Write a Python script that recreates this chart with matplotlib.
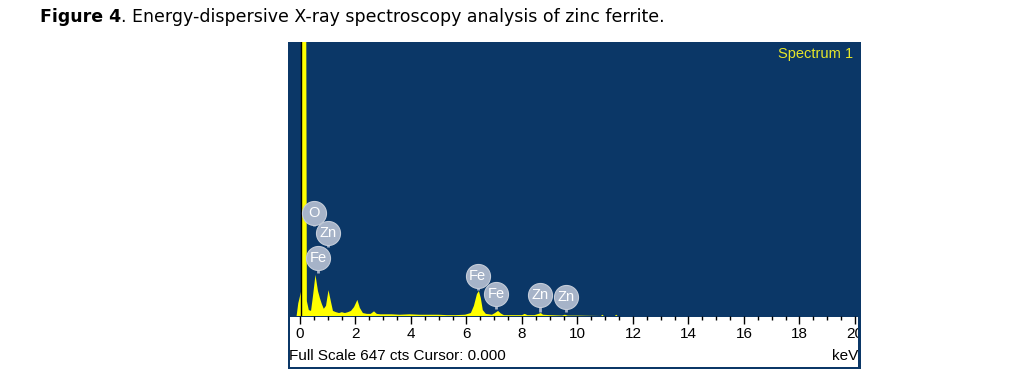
import matplotlib
matplotlib.use('Agg')
import matplotlib.pyplot as plt
from matplotlib.patches import Rectangle
from matplotlib.ticker import MultipleLocator

# EDS spectrum (keV, counts). Full scale = 647 cts,
# the main low-energy peak runs off the top.
energy = [-0.43, -0.12, -0.06, 0.05, 0.08, 0.17, 0.20, 0.25, 0.32, 0.40, 0.47,
          0.56, 0.65, 0.72, 0.79, 0.86, 0.94, 1.03, 1.12, 1.19, 1.30, 1.41,
          1.51, 1.62, 1.73, 1.84, 1.95, 2.07, 2.16, 2.27, 2.41, 2.55, 2.67,
          2.77, 2.90, 3.06, 3.30, 3.60, 3.95, 4.30, 4.65, 5.00, 5.30, 5.60,
          5.95, 6.16, 6.27, 6.38, 6.45, 6.52, 6.59, 6.70, 6.92, 7.03, 7.14,
          7.24, 7.35, 7.75, 8.00, 8.10, 8.20, 8.45, 8.60, 8.68, 8.76, 9.00,
          9.45, 9.55, 9.65, 10.0, 10.85, 10.9, 10.95, 11.35, 11.4, 11.45,
          12.0, 20.3]
counts = [0, 0, 30, 60, 1500, 1500, 1500, 35, 14, 12, 47,
          97, 59, 42, 28, 17, 24, 61, 33, 12, 9, 7,
          9, 7, 9, 12, 21, 38, 19, 7, 5, 5, 11,
          5, 4, 4, 4, 3, 4, 3, 3, 3, 2, 2,
          3, 7, 24, 52, 59, 42, 14, 5, 3, 7, 12,
          6, 2, 2, 2, 5, 2, 2, 5, 7, 3, 2,
          1, 3, 1, 1, 0, 3, 0, 0, 3, 0,
          0, 0]

# element markers: label, position (keV), bubble height and stem end (cts)
elements = ['O', 'Zn', 'Fe', 'Fe', 'Fe', 'Zn', 'Zn']
elem_kev = [0.50, 1.01, 0.65, 6.41, 7.06, 8.65, 9.59]
elem_top = [243, 196, 137, 94, 52, 50, 45]
elem_base = [212, 163, 102, 61, 17, 9, 9]

full_scale = 647
cursor = 0.05
xtick_vals = [0, 2, 4, 6, 8, 10, 12, 14, 16, 18, 20]

W, H = 1011, 380
navy = '#0b3767'
yellow = '#ffff00'
bubble = '#a6b3c8'


def fx(px):
    return px / W


def fy(py):
    return 1 - py / H


fig = plt.figure(figsize=(W / 100, H / 100), dpi=100)
fig.patch.set_facecolor('white')

# panel frame (blue border around white scale band)
fig.patches.append(Rectangle((fx(288), fy(369)), fx(861) - fx(288), fy(42) - fy(369),
                             transform=fig.transFigure, facecolor=navy,
                             edgecolor='none', zorder=-2))
fig.patches.append(Rectangle((fx(290), fy(367)), fx(858) - fx(290), fy(317) - fy(367),
                             transform=fig.transFigure, facecolor='white',
                             edgecolor='none', zorder=-1))

ax = fig.add_axes([fx(288), fy(316), fx(861) - fx(288), fy(42) - fy(316)])
ax.set_zorder(1)
ax.set_facecolor(navy)
for s in ax.spines.values():
    s.set_visible(False)

ax.fill_between(energy, counts, 0, color=yellow, linewidth=0, zorder=2)
ax.axvline(cursor, color='black', lw=1.0, zorder=3)

for lab, x, yt, yb in zip(elements, elem_kev, elem_top, elem_base):
    ax.plot([x, x], [yt, yb], color=bubble, lw=2, zorder=4, solid_capstyle='butt')
    ax.scatter([x], [yt], s=300, color=bubble, edgecolors='#c4ccd9',
               linewidths=0.8, zorder=5)
    ax.text(x, yt, lab, color='white', fontsize=10.5, ha='center', va='center',
            family='Liberation Sans', zorder=6)

ax.set_xlim(-0.43, 20.22)
ax.set_ylim(0, full_scale)
ax.set_yticks([])
ax.set_xticks(xtick_vals)
ax.xaxis.set_minor_locator(MultipleLocator(0.5))
ax.tick_params(axis='x', which='major', direction='out', length=6, width=1,
               color='black', labelsize=11, pad=2)
ax.tick_params(axis='x', which='minor', direction='out', length=3, width=1,
               color='black')
for t in ax.get_xticklabels():
    t.set_family('Liberation Sans')

ax.text(0.986, 0.955, 'Spectrum 1', transform=ax.transAxes, color='#e6e62a',
        fontsize=10.5, ha='right', va='center', family='Liberation Sans')

fig.text(fx(289), fy(356), 'Full Scale 647 cts Cursor: 0.000', fontsize=11,
         family='Liberation Sans', ha='left', va='center', zorder=3)
fig.text(fx(858), fy(356), 'keV', fontsize=11, family='Liberation Sans',
         ha='right', va='center', zorder=3)

# cover the clipped part of the "20" label and redraw the right border
fig.patches.append(Rectangle((fx(861), fy(369)), 0.03, fy(317) - fy(369),
                             transform=fig.transFigure, facecolor='white',
                             edgecolor='none', zorder=10))
fig.patches.append(Rectangle((fx(858), fy(369)), fx(861) - fx(858), fy(316) - fy(369),
                             transform=fig.transFigure, facecolor=navy,
                             edgecolor='none', zorder=11))

# caption: bold "Figure 4" followed by regular text
renderer = fig.canvas.get_renderer()
t1 = fig.text(fx(40), fy(17), 'Figure 4', fontsize=12.5, fontweight='bold',
              family='DejaVu Sans', va='center', ha='left')
bb = t1.get_window_extent(renderer)
fig.text(bb.x1 / W, fy(17),
         '. Energy-dispersive X-ray spectroscopy analysis of zinc ferrite.',
         fontsize=12.5, family='DejaVu Sans', va='center', ha='left')

fig.savefig('out.png', dpi=100)
